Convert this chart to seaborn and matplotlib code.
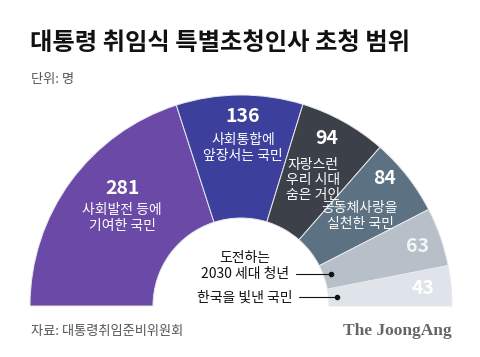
import numpy as np
import matplotlib
matplotlib.use("Agg")
import matplotlib.pyplot as plt
import seaborn as sns

# data
groups = ["사회발전 등에\n기여한 국민", "사회통합에\n앞장서는 국민", "자랑스런\n우리 시대\n숨은 거인",
          "공동체사랑을\n실천한 국민", "도전하는\n2030 세대 청년", "한국을 빛낸 국민"]
counts = [281, 136, 94, 84, 63, 43]
colors = ["#6a4aa6", "#3c3f9c", "#3b4049", "#5c7181", "#b7bfc9", "#dfe4ea"]

sns.set_theme(style="white")
plt.rcParams["font.family"] = ["Noto Sans CJK KR", "DejaVu Sans"]

W, H = 480, 357
fig = plt.figure(figsize=(W / 100, H / 100), dpi=100)
ax = fig.add_axes([0, 0, 1, 1])

cx, cy, r_out, r_in = 241, 306, 211, 88
total = sum(counts)
wedges, _ = ax.pie(counts + [total], colors=colors + ["white"], startangle=180, counterclock=True,
                   center=(cx, cy), radius=r_out,
                   wedgeprops=dict(width=r_out - r_in, edgecolor="#e8e8ee", linewidth=0.7))
wedges[-1].set_visible(False)
ax.set_xlim(0, W)
ax.set_ylim(H, 0)
ax.set_aspect("auto")
ax.axis("off")

# labels inside wedges (pixel positions)
num_pos = [(122, 188), (243, 117), (327, 138), (385, 178), (418, 246), (423, 289)]
txt_pos = [(122, 218), (243, 148), (313, 180), (360, 216), None, None]
num_col = ["white", "white", "white", "white", "#f2f4f6", "white"]
for i, (n, g) in enumerate(zip(counts, groups)):
    ax.text(*num_pos[i], str(n), color=num_col[i], fontsize=14, fontweight="bold",
            ha="center", va="center")
    if txt_pos[i] is not None:
        ax.text(*txt_pos[i], g, color="white", fontsize=10, ha="center", va="center",
                linespacing=1.1)

# outside labels with leader lines
ax.text(245, 266, groups[4], fontsize=10, ha="center", va="center", color="#111111",
        linespacing=1.15)
ax.plot([296, 331], [274, 274], color="#111111", lw=0.8)
ax.plot(331, 274, "o", color="#111111", ms=3)
ax.text(245, 298, groups[5], fontsize=10, ha="center", va="center", color="#111111")
ax.plot([299, 337], [297, 297], color="#111111", lw=0.8)
ax.plot(337, 297, "o", color="#111111", ms=3)

# title and notes
ax.text(30, 43, "대통령 취임식 특별초청인사 초청 범위", fontsize=17.5, fontweight="bold",
        ha="left", va="center", color="#111111")
ax.text(31, 80, "단위: 명", fontsize=9.5, ha="left", va="center", color="#555555")
ax.text(31, 331, "자료: 대통령취임준비위원회", fontsize=9.5, ha="left", va="center", color="#555555")
ax.text(452, 331, "The JoongAng", fontsize=12.5, fontweight="bold", family="Liberation Serif",
        ha="right", va="center", color="#666666")

fig.savefig("out.png", dpi=100)
